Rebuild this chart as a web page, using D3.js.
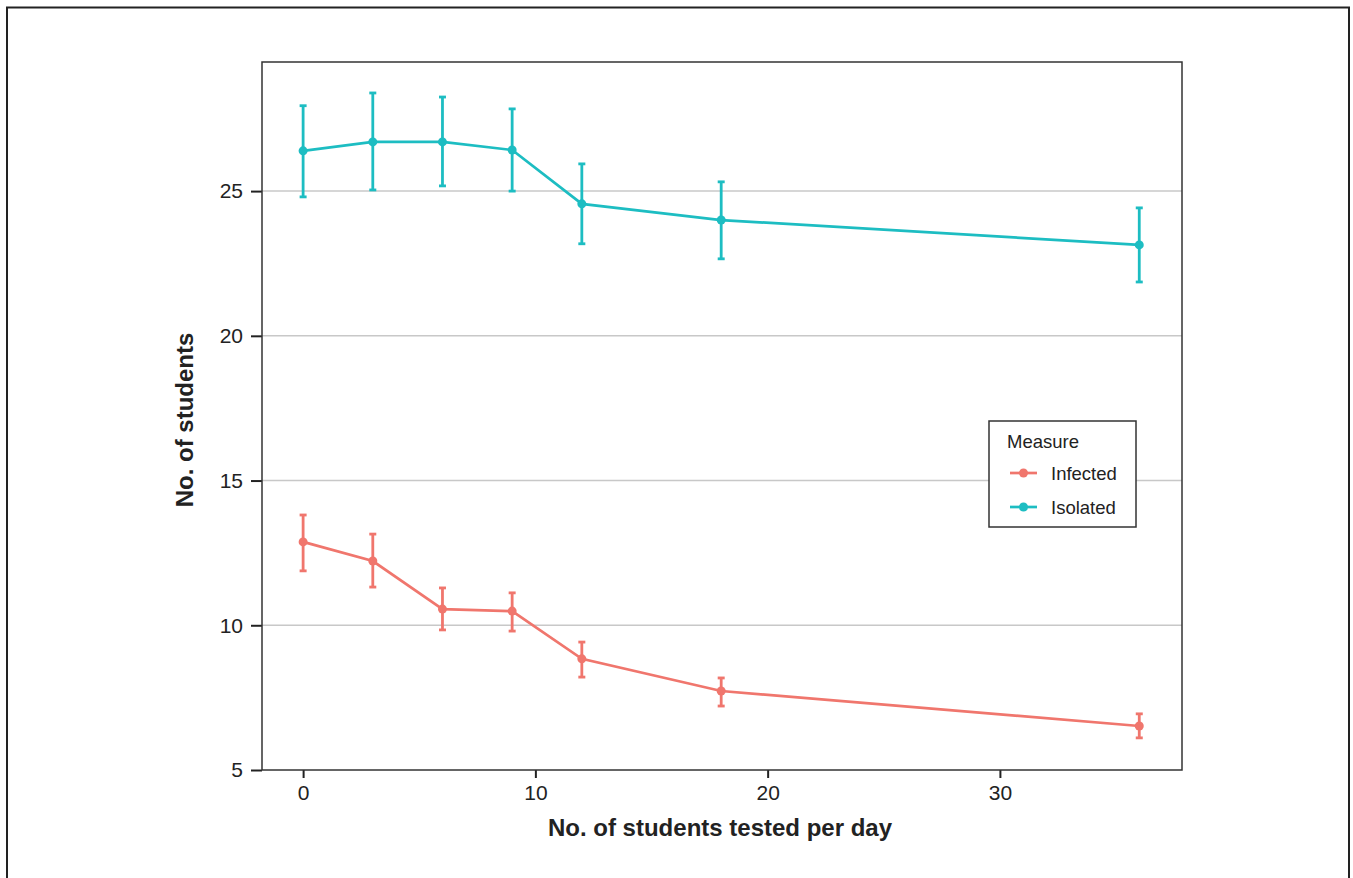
<!DOCTYPE html>
<html>
<head>
<meta charset="utf-8">
<script src="https://cdn.jsdelivr.net/npm/d3@7"></script>
<style>
  body { margin: 0; background: #fff; }
  svg { display: block; font-family: "Liberation Sans", Arial, sans-serif; }
</style>
</head>
<body>
<svg id="chart" width="1353" height="878"></svg>
<script>
// tested per day
const testedPerDay = [0, 3, 6, 9, 12, 18, 36];

// mean + interval for each measure
const infectedMean = [12.88, 12.22, 10.56, 10.49, 8.84, 7.73, 6.52];
const infectedLow  = [11.88, 11.32, 9.84, 9.80, 8.21, 7.21, 6.11];
const infectedHigh = [13.81, 13.15, 11.29, 11.12, 9.42, 8.18, 6.94];

const isolatedMean = [26.39, 26.70, 26.70, 26.42, 24.56, 24.00, 23.14];
const isolatedLow  = [24.80, 25.04, 25.18, 25.00, 23.18, 22.66, 21.86];
const isolatedHigh = [27.95, 28.39, 28.25, 27.84, 25.94, 25.32, 24.42];

const xTicks = [0, 10, 20, 30];
const yTicks = [5, 10, 15, 20, 25];

const measures = ['Infected', 'Isolated'];
const colors = ['#F0766D', '#1DBDC2'];

const svg = d3.select('#chart');

// outer frame
svg.append('path')
  .attr('d', 'M7,878 V7.5 H1349 V878')
  .attr('fill', 'none')
  .attr('stroke', '#222')
  .attr('stroke-width', 2);

const pL = 262, pT = 62, pR = 1182, pB = 770;

let x = d3.scaleLinear().domain([-1.77, 37.84]).range([pL, pR]);
let y = d3.scaleLinear().domain([5, 29.46]).range([pB, pT]);

// grid
svg.append('g').selectAll('line')
  .data(yTicks.filter(d => d > 5))
  .enter().append('line')
  .attr('x1', pL).attr('x2', pR)
  .attr('y1', d => y(d)).attr('y2', d => y(d))
  .attr('stroke', '#c8c8c8').attr('stroke-width', 1.5);

// axes
let yAxis = svg.append('g')
  .attr('transform', `translate(${pL},0)`)
  .call(d3.axisLeft(y).tickValues(yTicks).tickSize(11).tickPadding(8));
let xAxis = svg.append('g')
  .attr('transform', `translate(0,${pB})`)
  .call(d3.axisBottom(x).tickValues(xTicks).tickSize(8).tickPadding(7));

[yAxis, xAxis].forEach(a => {
  a.select('.domain').remove();
  a.selectAll('line').attr('stroke', '#222').attr('stroke-width', 2);
  a.selectAll('text').attr('fill', '#222').style('font-size', '21px');
});

// panel border
svg.append('rect')
  .attr('x', pL).attr('y', pT)
  .attr('width', pR - pL).attr('height', pB - pT)
  .attr('fill', 'none').attr('stroke', '#333').attr('stroke-width', 1.5);

// axis titles
svg.append('text')
  .attr('x', 720).attr('y', 836)
  .attr('text-anchor', 'middle')
  .style('font-size', '24px').style('font-weight', 'bold').attr('fill', '#222')
  .text('No. of students tested per day');

svg.append('text')
  .attr('transform', 'translate(193,420) rotate(-90)')
  .attr('text-anchor', 'middle')
  .style('font-size', '24px').style('font-weight', 'bold').attr('fill', '#222')
  .text('No. of students');

// series
const series = [
  { mean: infectedMean, low: infectedLow, high: infectedHigh },
  { mean: isolatedMean, low: isolatedLow, high: isolatedHigh }
];

let line = d3.line()
  .x(d => x(d[0]))
  .y(d => y(d[1]));

series.forEach((s, k) => {
  let pts = testedPerDay.map((t, i) => [t, s.mean[i], s.low[i], s.high[i]]);
  let g = svg.append('g');

  g.append('path')
    .datum(pts)
    .attr('d', line)
    .attr('fill', 'none')
    .attr('stroke', colors[k])
    .attr('stroke-width', 2.7);

  g.selectAll('.bar').data(pts).enter().append('line')
    .attr('x1', d => x(d[0])).attr('x2', d => x(d[0]))
    .attr('y1', d => y(d[2])).attr('y2', d => y(d[3]))
    .attr('stroke', colors[k]).attr('stroke-width', 2.8);

  ['low', 'high'].forEach((key, j) => {
    g.selectAll('.cap' + key).data(pts).enter().append('line')
      .attr('x1', d => x(d[0]) - 3.5).attr('x2', d => x(d[0]) + 3.5)
      .attr('y1', d => y(d[2 + j])).attr('y2', d => y(d[2 + j]))
      .attr('stroke', colors[k]).attr('stroke-width', 2.8);
  });

  g.selectAll('circle').data(pts).enter().append('circle')
    .attr('cx', d => x(d[0])).attr('cy', d => y(d[1]))
    .attr('r', 4.5).attr('fill', colors[k]);
});

// legend
let lg = svg.append('g').attr('transform', 'translate(989,421)');
lg.append('rect')
  .attr('width', 147).attr('height', 106)
  .attr('fill', '#fff').attr('stroke', '#333').attr('stroke-width', 1.5);
lg.append('text')
  .attr('x', 18).attr('y', 27)
  .style('font-size', '18.5px').attr('fill', '#222')
  .text('Measure');

measures.forEach((m, i) => {
  let ly = 52 + i * 34;
  lg.append('line')
    .attr('x1', 21).attr('x2', 48).attr('y1', ly).attr('y2', ly)
    .attr('stroke', colors[i]).attr('stroke-width', 2.7);
  lg.append('circle')
    .attr('cx', 34.5).attr('cy', ly).attr('r', 4.5).attr('fill', colors[i]);
  lg.append('text')
    .attr('x', 62).attr('y', ly + 7)
    .style('font-size', '18.5px').attr('fill', '#222')
    .text(m);
});
</script>
</body>
</html>
